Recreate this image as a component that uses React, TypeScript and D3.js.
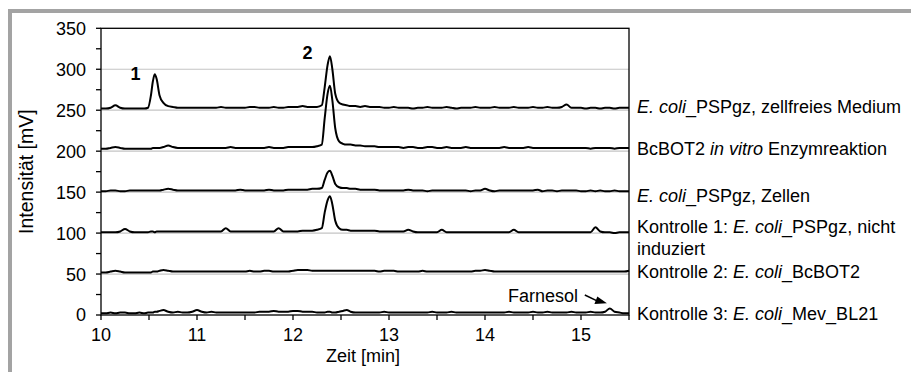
import React from 'react';
import * as d3 from 'd3';

// retention time grid [min], denser around the two peaks
const times = [
  10.0, 10.05, 10.1, 10.15, 10.2, 10.25, 10.3, 10.35, 10.4, 10.45,
  10.49, 10.52, 10.54, 10.56, 10.58, 10.61, 10.65,
  10.7, 10.75, 10.8, 10.85, 10.9, 10.95,
  11.0, 11.05, 11.1, 11.15, 11.2, 11.25, 11.3, 11.35, 11.4, 11.45, 11.5, 11.55, 11.6, 11.65, 11.7, 11.75, 11.8, 11.85, 11.9, 11.95,
  12.0, 12.05, 12.1, 12.15, 12.2, 12.25,
  12.3, 12.33, 12.36, 12.385, 12.41, 12.44, 12.48, 12.52, 12.56,
  12.6, 12.65, 12.7, 12.75, 12.8, 12.85, 12.9, 12.95,
  13.0, 13.05, 13.1, 13.15, 13.2, 13.25, 13.3, 13.35, 13.4, 13.45, 13.5, 13.55, 13.6, 13.65, 13.7, 13.75, 13.8, 13.85, 13.9, 13.95,
  14.0, 14.05, 14.1, 14.15, 14.2, 14.25, 14.3, 14.35, 14.4, 14.45, 14.5, 14.55, 14.6, 14.65, 14.7, 14.75, 14.8, 14.85, 14.9, 14.95,
  15.0, 15.05, 15.1, 15.15, 15.2, 15.25, 15.3, 15.35, 15.4, 15.45, 15.5,
];

// intensities [mV] per trace
const zellfreiesMedium = [
  252, 252, 253, 256, 253, 252, 252, 252, 252, 252,
  253, 268, 285, 294, 288, 268, 259,
  255, 254, 253, 253, 253, 253,
  253, 253, 253, 253, 253, 254, 253, 253, 253, 253, 253, 254, 254, 253, 253, 253, 254, 253, 253, 254,
  254, 254, 255, 254, 254, 254,
  256, 278, 305, 316, 300, 270, 259, 257, 256,
  255, 255, 254, 255, 254, 254, 254, 253,
  253, 254, 253, 253, 253, 252, 253, 253, 254, 253, 253, 253, 254, 253, 252, 253, 253, 253, 254, 253,
  253, 253, 254, 253, 253, 253, 254, 253, 253, 253, 254, 253, 253, 254, 253, 253, 254, 257, 253, 253,
  253, 252, 253, 253, 252, 253, 253, 252, 253, 253, 253,
];

const inVitro = [
  203, 203, 204, 205, 204, 203, 203, 203, 203, 203,
  203, 203, 204, 204, 204, 204, 205,
  207, 205, 204, 204, 204, 204,
  204, 204, 204, 204, 204, 204, 204, 205, 204, 204, 204, 204, 204, 204, 204, 205, 204, 204, 204, 205,
  205, 205, 205, 205, 205, 206,
  208, 240, 270, 280, 262, 228, 212, 209, 208,
  208, 207, 207, 206, 206, 206, 205, 205,
  205, 205, 205, 204, 205, 205, 204, 204, 205, 205, 204, 204, 205, 204, 204, 204, 205, 204, 204, 204,
  204, 204, 204, 204, 205, 204, 204, 204, 204, 205, 204, 204, 204, 204, 204, 204, 204, 204, 204, 204,
  204, 204, 203, 204, 204, 204, 204, 203, 204, 204, 204,
];

const zellen = [
  151, 151, 152, 152, 151, 151, 152, 152, 152, 152,
  152, 152, 152, 152, 152, 152, 153,
  154, 153, 152, 152, 152, 152,
  152, 152, 152, 152, 152, 152, 152, 152, 152, 153, 152, 152, 152, 152, 152, 153, 152, 152, 152, 153,
  153, 153, 153, 153, 154, 154,
  155, 165, 174, 176, 170, 160, 156, 155, 155,
  154, 154, 153, 153, 153, 153, 152, 152,
  152, 152, 152, 152, 153, 152, 152, 152, 151, 152, 152, 152, 152, 152, 152, 152, 152, 151, 152, 152,
  154, 152, 151, 152, 152, 152, 152, 152, 152, 152, 152, 153, 151, 152, 152, 151, 152, 152, 152, 152,
  151, 151, 152, 151, 152, 151, 151, 152, 151, 151, 151,
];

const kontrolle1 = [
  101, 101, 101, 101, 102, 105, 102, 101, 101, 101,
  101, 102, 102, 101, 102, 102, 102,
  102, 102, 102, 102, 102, 102,
  102, 102, 102, 102, 102, 102, 106, 102, 102, 102, 102, 102, 102, 102, 102, 102, 102, 106, 102, 102,
  102, 102, 103, 103, 103, 104,
  106, 125, 140, 145, 135, 115, 106, 104, 104,
  103, 103, 103, 103, 103, 103, 102, 102,
  102, 102, 102, 102, 104, 102, 101, 101, 101, 101, 101, 104, 101, 101, 101, 101, 101, 101, 101, 101,
  101, 101, 101, 101, 101, 101, 104, 101, 101, 101, 101, 101, 101, 101, 101, 101, 101, 101, 101, 101,
  101, 101, 101, 107, 102, 101, 101, 100, 101, 101, 101,
];

const kontrolle2 = [
  52, 52, 53, 54, 53, 52, 52, 52, 52, 52,
  52, 52, 53, 53, 53, 54, 55,
  54, 53, 53, 53, 53, 53,
  53, 53, 53, 53, 53, 53, 53, 53, 53, 53, 53, 54, 53, 53, 54, 54, 53, 53, 53, 53,
  54, 55, 55, 55, 54, 54,
  54, 54, 54, 54, 54, 54, 54, 54, 54,
  54, 54, 54, 54, 54, 54, 53, 54,
  54, 54, 53, 53, 53, 53, 53, 54, 53, 53, 53, 53, 53, 53, 53, 53, 53, 53, 54, 54,
  55, 54, 53, 53, 53, 53, 53, 53, 53, 53, 53, 53, 53, 53, 53, 53, 53, 53, 53, 53,
  53, 53, 53, 53, 53, 53, 53, 53, 53, 53, 54,
];

const kontrolle3 = [
  2, 2, 3, 2, 3, 3, 2, 2, 3, 2,
  3, 3, 3, 4, 4, 5, 6,
  4, 3, 4, 3, 3, 4,
  6, 4, 3, 4, 3, 3, 3, 3, 3, 3, 3, 3, 3, 4, 4, 4, 5, 4, 4, 4,
  5, 5, 4, 4, 4, 3,
  3, 3, 4, 4, 3, 3, 4, 5, 6,
  4, 3, 3, 3, 3, 3, 3, 4,
  3, 3, 3, 3, 3, 3, 3, 3, 3, 4, 3, 3, 3, 4, 3, 3, 3, 3, 3, 3,
  3, 3, 3, 3, 3, 4, 3, 3, 3, 3, 4, 3, 3, 4, 3, 3, 3, 3, 4, 3,
  3, 3, 4, 3, 3, 4, 8, 4, 3, 2, 2,
];

const traces = [zellfreiesMedium, inVitro, zellen, kontrolle1, kontrolle2, kontrolle3];

// right-hand labels: [text, italic] parts, and the intensity their baseline sits at
const labelParts: [string, boolean][][] = [
  [['E. coli', true], ['_PSPgz, zellfreies Medium', false]],
  [['BcBOT2 ', false], ['in vitro', true], [' Enzymreaktion', false]],
  [['E. coli', true], ['_PSPgz, Zellen', false]],
  [['Kontrolle 1: ', false], ['E. coli', true], ['_PSPgz, nicht', false]],
  [['induziert', false]],
  [['Kontrolle 2: ', false], ['E. coli', true], ['_BcBOT2', false]],
  [['Kontrolle 3: ', false], ['E. coli', true], ['_Mev_BL21', false]],
];
const labelValues = [246.6, 195.3, 138.3, 100.5, 73.2, 44.8, -6.1];

const xTicks = [10, 11, 12, 13, 14, 15];
const xMinor = [10.5, 11.5, 12.5, 13.5, 14.5, 15.5];
const yTicks = [0, 50, 100, 150, 200, 250, 300, 350];
const yMinor = [25, 75, 125, 175, 225, 275, 325];

// peak annotations: [label, time, intensity]
const peakLabels: [string, number, number][] = [
  ['1', 10.36, 287],
  ['2', 12.15, 313],
];

const W = 911;
const H = 372;
const left = 101;
const right = 629;
const top = 28.3;
const bottom = 315;
const font = '"Liberation Sans", Arial, sans-serif';

export default function App() {
  const x = d3.scaleLinear().domain([10, 15.5]).range([left, right]);
  const y = d3.scaleLinear().domain([0, 350]).range([bottom, top]);

  const line = d3
    .line<number>()
    .x((_, i) => x(times[i]))
    .y((d) => y(d))
    .curve(d3.curveMonotoneX);

  return (
    <svg
      width={W}
      height={H}
      style={{ position: 'absolute', left: 0, top: 0, background: '#fff' }}
      fontFamily={font}
    >
      {/* outer grey frame */}
      <rect x={10} y={11} width={W + 20} height={H + 20} fill="none" stroke="#a3a3a3" strokeWidth={4} />

      {/* gridlines */}
      {yTicks.slice(1, -1).map((t) => (
        <line key={t} x1={left} x2={right} y1={y(t)} y2={y(t)} stroke="#c4c4c4" strokeWidth={1.2} />
      ))}

      {/* traces */}
      {traces.map((tr, i) => (
        <path key={i} d={line(tr) || ''} fill="none" stroke="#000" strokeWidth={2} strokeLinejoin="round" />
      ))}

      {/* plot frame */}
      <rect x={left} y={top} width={right - left} height={bottom - top} fill="none" stroke="#000" strokeWidth={1.3} />

      {/* y axis */}
      {yTicks.map((t) => (
        <g key={t}>
          <line x1={left - 5} x2={left} y1={y(t)} y2={y(t)} stroke="#000" strokeWidth={1.3} />
          <text x={86} y={y(t)} dy="0.36em" textAnchor="end" fontSize={18} fill="#000">
            {t}
          </text>
        </g>
      ))}
      {yMinor.map((t) => (
        <line key={t} x1={left - 5} x2={left} y1={y(t)} y2={y(t)} stroke="#000" strokeWidth={1.3} />
      ))}
      <text
        transform={`translate(33,${(top + bottom) / 2}) rotate(-90)`}
        textAnchor="middle"
        fontSize={19.5}
        fill="#000"
      >
        Intensität [mV]
      </text>

      {/* x axis */}
      {xTicks.map((t) => (
        <g key={t}>
          <line x1={x(t)} x2={x(t)} y1={bottom} y2={bottom + 5} stroke="#000" strokeWidth={1.3} />
          <text x={x(t)} y={341} textAnchor="middle" fontSize={18} fill="#000">
            {t}
          </text>
        </g>
      ))}
      {xMinor.map((t) => (
        <line key={t} x1={x(t)} x2={x(t)} y1={bottom} y2={bottom + 5} stroke="#000" strokeWidth={1.3} />
      ))}
      <text x={363} y={362} textAnchor="middle" fontSize={18} fill="#000">
        Zeit [min]
      </text>

      {/* peak numbers */}
      {peakLabels.map(([s, t, v]) => (
        <text key={s} x={x(t)} y={y(v)} textAnchor="middle" fontSize={18} fontWeight="bold" fill="#000">
          {s}
        </text>
      ))}

      {/* Farnesol annotation */}
      <text x={x(14.0)} y={y(16.3)} fontSize={18} fill="#000" textAnchor="start" dx={23}>
        Farnesol
      </text>
      <line x1={x(15.04)} y1={y(24.4)} x2={x(15.2)} y2={y(15.5)} stroke="#000" strokeWidth={1.5} />
      <path
        d={`M${x(15.27)},${y(14.2)} L${x(15.17)},${y(22.5)} L${x(15.14)},${y(13.5)} Z`}
        fill="#000"
      />

      {/* trace labels */}
      {labelParts.map((parts, i) => (
        <text key={i} x={637} y={y(labelValues[i])} fontSize={18} fill="#000" style={{ whiteSpace: 'pre' }}>
          {parts.map(([s, it], j) => (
            <tspan key={j} fontStyle={it ? 'italic' : 'normal'}>
              {s}
            </tspan>
          ))}
        </text>
      ))}
    </svg>
  );
}
